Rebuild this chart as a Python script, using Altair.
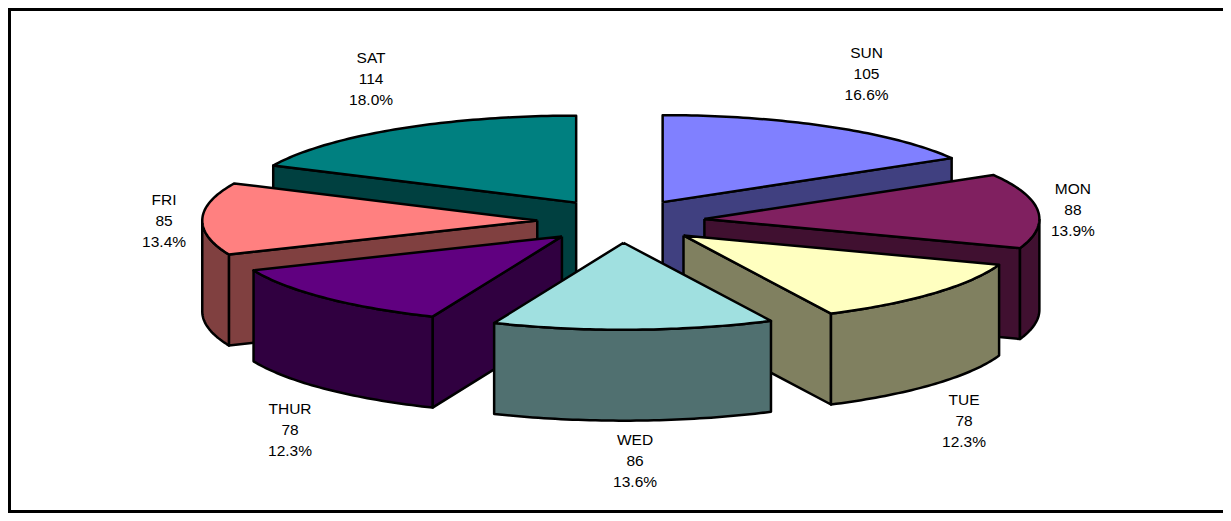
import math
import altair as alt
import pandas as pd

days = ["SUN", "MON", "TUE", "WED", "THUR", "FRI", "SAT"]
counts = [105, 88, 78, 86, 78, 85, 114]
top_colors = ["#8080FF", "#802060", "#FFFFC0", "#A0E0E0", "#600080", "#FF8080", "#008080"]
side_colors = ["#404080", "#401030", "#808060", "#507070", "#300040", "#804040", "#004040"]
paint_order = [6, 0, 5, 1, 4, 2, 3]
# first-line label anchors in pie units (1 = pie radius on each axis)
label_x = [0.733, 1.349, 1.024, 0.042, -0.988, -1.364, -0.746]
label_y = [1.926, 0.368, -2.054, -2.517, -2.160, 0.242, 1.868]

EXPLODE = 0.25
DEPTH = 1.045
A, B = 335.0, 87.0      # pixels per pie unit
CX, CY = 621.0, 221.0   # pie centre on the page
W, H = 1215, 505
x_dom = [(8 - CX) / A, (8 + W - CX) / A]
y_dom = [(CY - 8 - H) / B, (CY - 8) / B]
xs = alt.Scale(domain=x_dom, range=[0, W], nice=False, zero=False)
ys = alt.Scale(domain=y_dom, range=[H, 0], nice=False, zero=False)

total = sum(counts)
edges = [0.0]
for c in counts:
    edges.append(edges[-1] + 360.0 * c / total)


def pt(deg, r=1.0):
    t = math.radians(deg)
    return r * math.sin(t), r * math.cos(t)


def arc(a0, a1):
    n = max(2, int(abs(a1 - a0)) + 1)
    return [pt(a0 + (a1 - a0) * i / n) for i in range(n + 1)]


def poly(points, fill):
    p = list(points) + [points[0]]
    df = pd.DataFrame({"x": [q[0] for q in p], "y": [q[1] for q in p], "i": range(len(p))})
    return alt.Chart(df).mark_line(fill=fill, stroke="black", strokeWidth=2.5, strokeJoin="round",
                                   interpolate="linear", clip=False).encode(
        x=alt.X("x:Q", scale=xs, axis=None),
        y=alt.Y("y:Q", scale=ys, axis=None),
        order="i:Q",
    )


layers = []
for k in paint_order:
    a0, a1 = edges[k], edges[k + 1]
    mid = (a0 + a1) / 2
    ox, oy = pt(mid, EXPLODE)
    rim = [(ox + x, oy + y) for x, y in arc(a0, a1)]
    apex = (ox, oy)
    low = lambda q: (q[0], q[1] - DEPTH)
    # radial walls that face the viewer
    if 0 < a1 < 180:
        e = rim[-1]
        layers.append(poly([apex, e, low(e), low(apex)], side_colors[k]))
    if 180 < a0 < 360:
        s = rim[0]
        layers.append(poly([apex, s, low(s), low(apex)], side_colors[k]))
    # outer wall: the part of the rim on the near half
    lo, hi = max(a0, 90.0), min(a1, 270.0)
    if lo < hi:
        front = [(ox + x, oy + y) for x, y in arc(lo, hi)]
        layers.append(poly(front + [low(q) for q in reversed(front)], side_colors[k]))
    # top face
    layers.append(poly([apex] + rim, top_colors[k]))

labels = pd.DataFrame({
    "x": label_x,
    "y": label_y,
    "t": [f"{d}\n{c}\n{100 * c / total:.1f}%" for d, c in zip(days, counts)],
})
text = alt.Chart(labels).mark_text(font="Liberation Sans", fontSize=15.5, lineBreak="\n", lineHeight=21,
                                   color="black", align="center", baseline="middle").encode(
    x=alt.X("x:Q", scale=xs, axis=None),
    y=alt.Y("y:Q", scale=ys, axis=None),
    text="t:N",
)

frame_data = pd.DataFrame({"x": [x_dom[0]], "y": [y_dom[1]]})
left = alt.Chart(frame_data).mark_rule(color="black", strokeWidth=3).encode(
    x=alt.value(1.5), y=alt.value(0), y2=alt.value(H))
top = alt.Chart(frame_data).mark_rule(color="black", strokeWidth=3).encode(
    y=alt.value(1.5), x=alt.value(0), x2=alt.value(W))
bottom = alt.Chart(frame_data).mark_rule(color="black", strokeWidth=3).encode(
    y=alt.value(H - 1.5), x=alt.value(0), x2=alt.value(W))

chart = alt.layer(left, top, bottom, *layers, text).properties(
    width=W, height=H, padding=0, autosize=alt.AutoSizeParams(type="none"), background="white",
).configure_view(stroke=None)

chart.save("out.html", embed_options={"renderer": "svg", "actions": False})
